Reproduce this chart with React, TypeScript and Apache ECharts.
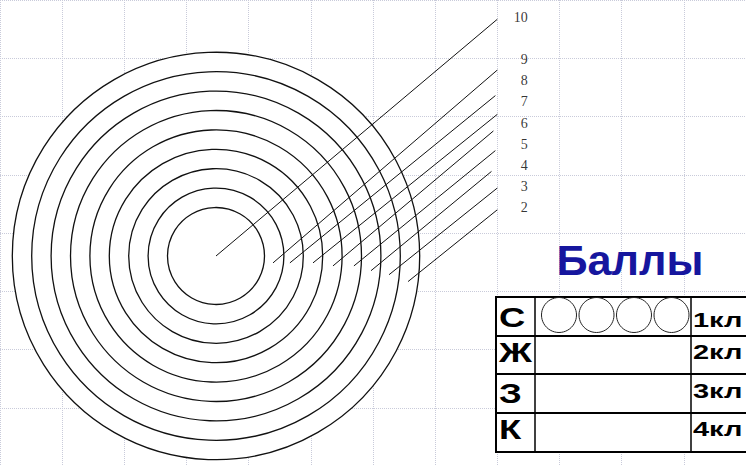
import React, { useEffect, useRef } from "react";
import * as echarts from "echarts";

// Scores of the target, from the centre outwards
const scores = [10, 9, 8, 7, 6, 5, 4, 3, 2];
// Outer radius of each scoring ring (target units), same order as scores
const ringRadii = [2.5, 3.5, 4.5, 5.5, 6.5, 7.5, 8.5, 9.5, 10.5];
// Leader line start points (inside each ring) and end points
const leaderStartX = [0, 2.94, 3.81, 5.0, 6.03, 7.11, 7.99, 8.92, 9.9];
const leaderStartY = [0, -0.36, -0.36, -0.36, -0.52, -0.52, -0.77, -0.98, -1.34];
const leaderEndX = [14.5, 14.5, 14.4, 14.5, 14.3, 14.4, 14.2, 14.5, 14.5];
const leaderEndY = [12.4, 9.74, 8.4, 7.42, 6.55, 5.52, 4.43, 3.56, 2.42];
// Score label anchor (right edge) positions
const labelX = 16.1;
const labelY = [12.47, 10.31, 9.18, 8.09, 6.96, 5.82, 4.74, 3.66, 2.53];

// Legend table
const tableTitle = "Баллы";
const rowLetters = ["С", "Ж", "З", "К"];
const classLabels = ["1кл", "2кл", "3кл", "4кл"];
const chipCount = 4;

export default function App() {
  const ref = useRef<HTMLDivElement>(null);
  useEffect(() => {
    document.body.style.margin = "0";
    const chart = echarts.init(ref.current!, null, { renderer: "svg" });

    const tblLeft = 496;
    const tblTop = 297;
    const rowH = [39, 38, 39, 39];
    const rowTops: number[] = [];
    let acc = tblTop;
    rowH.forEach((h) => {
      rowTops.push(acc);
      acc += h;
    });
    const tblBottom = acc;
    const col1 = 535;
    const col2 = 691;

    const graphics: any[] = [];
    graphics.push({
      type: "text",
      z: 100,
      x: 630,
      y: 260,
      scaleX: 1.03,
      style: {
        text: tableTitle,
        font: 'bold 42px "Liberation Sans", Arial, sans-serif',
        fill: "#16169e",
        textAlign: "center",
        textVerticalAlign: "middle",
      },
    });
    graphics.push({
      type: "rect",
      z: 100,
      shape: { x: tblLeft, y: tblTop, width: 300, height: tblBottom - tblTop },
      style: { fill: "#fff", stroke: "#000", lineWidth: 2 },
    });
    for (let i = 1; i < rowH.length; i++) {
      graphics.push({
        type: "line",
        z: 101,
        shape: { x1: tblLeft, y1: rowTops[i], x2: 760, y2: rowTops[i] },
        style: { stroke: "#000", lineWidth: 2 },
      });
    }
    [col1, col2].forEach((cx) =>
      graphics.push({
        type: "line",
        z: 101,
        shape: { x1: cx, y1: tblTop, x2: cx, y2: tblBottom },
        style: { stroke: "#000", lineWidth: 1.5 },
      })
    );
    const letterYOff = [1, -2, 0, -3];
    rowLetters.forEach((l, i) => {
      graphics.push({
        type: "text",
        z: 102,
        x: 499,
        y: rowTops[i] + rowH[i] / 2 + letterYOff[i],
        scaleX: 1.3,
        style: {
          text: l,
          font: 'bold 28px "Liberation Sans", Arial, sans-serif',
          fill: "#000",
          textAlign: "left",
          textVerticalAlign: "middle",
        },
      });
    });
    const classYOff = [3, -3, -3, -4];
    classLabels.forEach((l, i) => {
      graphics.push({
        type: "text",
        z: 102,
        x: 693,
        y: rowTops[i] + rowH[i] / 2 + classYOff[i],
        scaleX: 1.45,
        style: {
          text: l,
          font: 'bold 20px "Liberation Sans", Arial, sans-serif',
          fill: "#000",
          textAlign: "left",
          textVerticalAlign: "middle",
        },
      });
    });
    for (let k = 0; k < chipCount; k++) {
      graphics.push({
        type: "circle",
        z: 102,
        shape: { cx: 559 + k * 37.5, cy: 315, r: 17.5 },
        style: { fill: "none", stroke: "#222", lineWidth: 1 },
      });
    }

    const option: any = {
      animation: false,
      backgroundColor: "#fff",
      grid: [
        { left: -28, top: -44, width: 774, height: 512, show: false },
        { left: 2.6, top: 7.8, width: 737.2, height: 465.6, show: false },
      ],
      xAxis: [
        {
          gridIndex: 0,
          type: "value",
          min: -1,
          max: 11,
          interval: 1,
          axisLine: { show: false },
          axisTick: { show: false },
          axisLabel: { show: false },
          splitLine: {
            show: true,
            lineStyle: { type: "dotted", color: "#c9cbda", width: 1 },
          },
        },
        { gridIndex: 1, type: "value", min: -11, max: 27, show: false },
      ],
      yAxis: [
        {
          gridIndex: 0,
          type: "value",
          inverse: true,
          min: -1,
          max: 7,
          interval: 1,
          axisLine: { show: false },
          axisTick: { show: false },
          axisLabel: { show: false },
          splitLine: {
            show: true,
            lineStyle: { type: "dotted", color: "#c9cbda", width: 1 },
          },
        },
        { gridIndex: 1, type: "value", min: -11, max: 13, show: false },
      ],
      series: [
        {
          type: "custom",
          xAxisIndex: 1,
          yAxisIndex: 1,
          z: 5,
          silent: true,
          data: ringRadii
            .map((r, i) => [0, 0, r, scores[i]])
            .sort((a, b) => b[2] - a[2]),
          renderItem: (params: any, api: any) => {
            const c = api.coord([api.value(0), api.value(1)]);
            const s = api.size([api.value(2), api.value(2)]);
            return {
              type: "circle",
              shape: { cx: c[0], cy: c[1], r: s[0] },
              style: { fill: "#fff", stroke: "#111", lineWidth: 1.3 },
            };
          },
        },
        {
          type: "lines",
          coordinateSystem: "cartesian2d",
          xAxisIndex: 1,
          yAxisIndex: 1,
          z: 6,
          silent: true,
          lineStyle: { color: "#111", width: 1, opacity: 1 },
          data: scores.map((s, i) => ({
            coords: [
              [leaderStartX[i], leaderStartY[i]],
              [leaderEndX[i], leaderEndY[i]],
            ],
          })),
        },
        {
          type: "scatter",
          xAxisIndex: 1,
          yAxisIndex: 1,
          z: 7,
          silent: true,
          symbolSize: 1,
          itemStyle: { color: "rgba(0,0,0,0)" },
          data: scores.map((s, i) => [labelX, labelY[i], s]),
          label: {
            show: true,
            position: "left",
            distance: 0,
            formatter: (p: any) => String(p.value[2]),
            fontFamily: '"Liberation Serif", "Times New Roman", serif',
            fontSize: 14,
            color: "#000",
          },
        },
      ],
      graphic: { elements: graphics },
    };
    chart.setOption(option);
    return () => chart.dispose();
  }, []);
  return <div ref={ref} style={{ width: 746, height: 466 }} />;
}
